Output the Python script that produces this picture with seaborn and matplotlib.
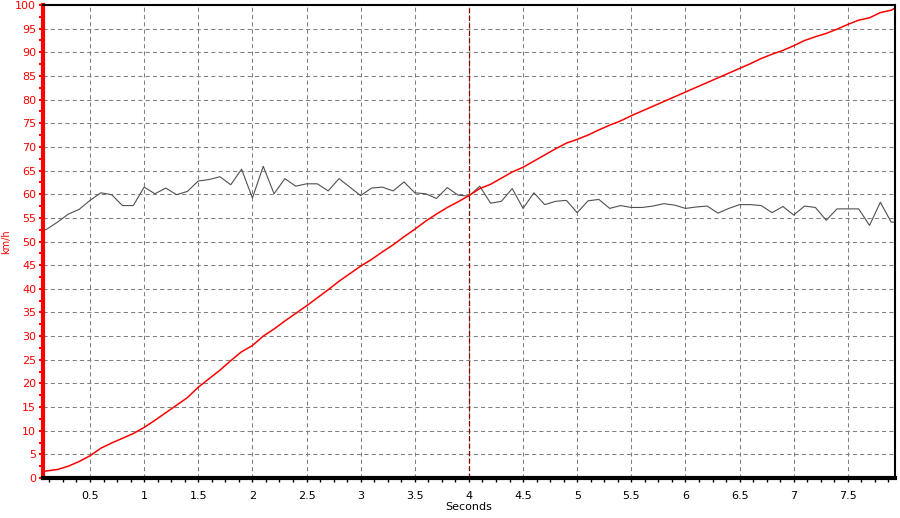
import matplotlib
matplotlib.use('Agg')
import matplotlib.pyplot as plt
from matplotlib.ticker import MultipleLocator, FixedLocator
import seaborn as sns
import pandas as pd

# time samples (s)
seconds = [0.07, 0.1, 0.2, 0.3, 0.4, 0.5, 0.6, 0.7, 0.8, 0.9, 1.0,
           1.1, 1.2, 1.3, 1.4, 1.5, 1.6, 1.7, 1.8, 1.9, 2.0,
           2.1, 2.2, 2.3, 2.4, 2.5, 2.6, 2.7, 2.8, 2.9, 3.0,
           3.1, 3.2, 3.3, 3.4, 3.5, 3.6, 3.7, 3.8, 3.9, 4.0,
           4.1, 4.2, 4.3, 4.4, 4.5, 4.6, 4.7, 4.8, 4.9, 5.0,
           5.1, 5.2, 5.3, 5.4, 5.5, 5.6, 5.7, 5.8, 5.9, 6.0,
           6.1, 6.2, 6.3, 6.4, 6.5, 6.6, 6.7, 6.8, 6.9, 7.0,
           7.1, 7.2, 7.3, 7.4, 7.5, 7.6, 7.7, 7.8, 7.9, 7.93]

# speed trace (red)
speed = [1.4, 1.5, 1.8, 2.5, 3.5, 4.7, 6.3, 7.4, 8.4, 9.4, 10.7,
         12.2, 13.8, 15.4, 17.0, 19.2, 21.0, 22.8, 24.8, 26.7, 28.0,
         30.0, 31.5, 33.2, 34.8, 36.4, 38.1, 39.8, 41.6, 43.2, 44.8,
         46.2, 47.8, 49.3, 51.0, 52.6, 54.3, 55.8, 57.2, 58.4, 59.7,
         61.2, 62.1, 63.4, 64.7, 65.7, 67.0, 68.3, 69.6, 70.8, 71.6,
         72.5, 73.6, 74.6, 75.5, 76.6, 77.6, 78.6, 79.6, 80.6, 81.6,
         82.6, 83.6, 84.6, 85.6, 86.6, 87.6, 88.7, 89.6, 90.4, 91.4,
         92.5, 93.3, 94.0, 94.9, 95.9, 96.8, 97.3, 98.4, 98.9, 99.3]

# second trace (grey)
other = [52.3, 52.6, 54.1, 55.8, 56.8, 58.7, 60.3, 59.9, 57.6, 57.6, 61.5,
         60.1, 61.3, 59.9, 60.6, 62.8, 63.1, 63.7, 62.0, 65.3, 59.2,
         65.9, 60.1, 63.3, 61.7, 62.2, 62.2, 60.7, 63.3, 61.5, 59.7,
         61.3, 61.5, 60.7, 62.6, 60.3, 60.1, 59.1, 61.4, 59.8, 59.6,
         61.7, 58.1, 58.5, 61.2, 57.0, 60.3, 57.8, 58.5, 58.7, 56.1,
         58.6, 58.9, 57.0, 57.6, 57.2, 57.2, 57.5, 58.0, 57.7, 57.0,
         57.3, 57.5, 56.0, 57.0, 57.8, 57.8, 57.6, 56.1, 57.4, 55.6,
         57.5, 57.2, 54.5, 56.9, 56.9, 56.9, 53.4, 58.3, 54.1, 54.1]

x_ticks = [0.5, 1, 1.5, 2, 2.5, 3, 3.5, 4, 4.5, 5, 5.5, 6, 6.5, 7, 7.5]
x_labels = ['0.5', '1', '1.5', '2', '2.5', '3', '3.5', '4', '4.5', '5', '5.5', '6', '6.5', '7', '7.5']
cursor_x = 4.0

df = pd.DataFrame({'Seconds': seconds, 'speed': speed, 'other': other})

sns.set_style('white')
plt.rcParams['font.family'] = ['DejaVu Sans']

fig = plt.figure(figsize=(9, 5.18), dpi=100)
ax = fig.add_axes([0.0478, 0.0772, 0.9466, 0.9131])

ax.grid(True, which='major', color='#808080', linestyle=(0, (4, 3)), linewidth=0.75)
ax.set_axisbelow(True)

sns.lineplot(data=df, x='Seconds', y='other', color='#505050', linewidth=0.8, ax=ax)
sns.lineplot(data=df, x='Seconds', y='speed', color='#ff0000', linewidth=1.1, ax=ax)
ax.axvline(cursor_x, color='#8b0000', linestyle=(0, (4, 2)), linewidth=0.9)

ax.set_xlim(0.066, 7.935)
ax.set_ylim(0, 100)

ax.xaxis.set_major_locator(FixedLocator(x_ticks))
ax.set_xticklabels(x_labels)
ax.xaxis.set_minor_locator(MultipleLocator(0.125))
ax.yaxis.set_major_locator(MultipleLocator(5))
ax.yaxis.set_minor_locator(MultipleLocator(2.5))

ax.tick_params(axis='x', which='both', direction='out', length=3, width=1,
               color='black', labelsize=8, labelcolor='black', pad=6, bottom=True)
ax.tick_params(axis='y', which='both', direction='out', length=3, width=1.5,
               color='#ff0000', labelsize=8, labelcolor='#ff0000', pad=2, left=True)

for side in ['top', 'right']:
    ax.spines[side].set_color('black')
    ax.spines[side].set_linewidth(1.5)
    ax.spines[side].set_visible(True)
ax.spines['left'].set_color('#ff0000')
ax.spines['left'].set_linewidth(3)
ax.spines['bottom'].set_color('black')
ax.spines['bottom'].set_linewidth(3)

ax.set_xlabel('Seconds', fontsize=8, color='black', labelpad=1)
ax.set_ylabel('km/h', fontsize=7, color='#ff0000')
ax.yaxis.set_label_coords(-0.037, 0.5)

fig.savefig('out.png', dpi=100)
